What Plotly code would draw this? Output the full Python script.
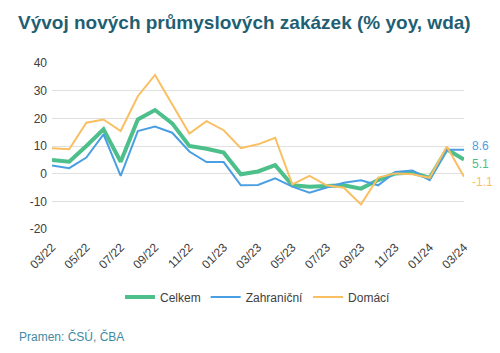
import plotly.graph_objects as go

months = ["03/22", "04/22", "05/22", "06/22", "07/22", "08/22", "09/22", "10/22", "11/22", "12/22",
          "01/23", "02/23", "03/23", "04/23", "05/23", "06/23", "07/23", "08/23", "09/23", "10/23",
          "11/23", "12/23", "01/24", "02/24", "03/24"]
celkem = [4.9, 4.3, 10.0, 16.0, 4.3, 19.6, 23.0, 18.2, 10.0, 9.0, 7.6, -0.2, 0.8, 3.1, -4.2, -4.7,
          -4.5, -4.2, -5.4, -2.3, 0.1, 0.4, -1.5, 8.8, 5.1]
zahranicni = [3.0, 2.0, 5.8, 14.2, -0.8, 15.4, 17.0, 14.8, 8.0, 4.2, 4.2, -4.2, -4.1, -1.7, -4.7, -6.9,
              -5.0, -3.3, -2.4, -4.2, 0.6, 1.1, -2.3, 8.6, 8.6]
domaci = [9.2, 8.8, 18.4, 19.6, 15.4, 28.0, 35.7, 25.0, 14.5, 19.0, 15.7, 9.2, 10.6, 13.0, -3.9, -0.8,
          -4.2, -5.1, -11.1, -1.4, 0.1, -0.2, -1.5, 9.8, -1.1]
series_names = ["Celkem", "Zahraniční", "Domácí"]
yticks = [-20, -10, 0, 10, 20, 30, 40]
ytick_text = ["-20", "-10", "0", "10", "20", "30", "40"]

colors = ["#4dbf8b", "#4a9fe2", "#f9bf62"]
widths = [4, 2, 2]
xs = list(range(len(months)))

fig = go.Figure()
for name, vals, c, w in zip(series_names, [celkem, zahranicni, domaci], colors, widths):
    fig.add_trace(go.Scatter(x=xs, y=vals, name=name, mode="lines",
                             line=dict(color=c, width=w), hoverinfo="skip"))

# end labels
shifts = [-4, 4, -5]
for vals, c, s in zip([celkem, zahranicni, domaci], colors, shifts):
    fig.add_annotation(x=xs[-1], y=vals[-1], text=f"{vals[-1]:.1f}".replace("−", "-"), showarrow=False,
                       xanchor="left", xshift=6, yshift=s,
                       font=dict(family="Liberation Sans, Arial", size=12, color=c))

fig.add_annotation(xref="paper", yref="paper", x=-0.085, y=-0.645, xanchor="left", yanchor="middle",
                   text="Pramen: ČSÚ, ČBA", showarrow=False,
                   font=dict(family="Liberation Sans, Arial", size=12, color="#3f8aa3"))

tickvals = xs[::2]
ticktext = months[::2]

fig.update_layout(
    width=500, height=353,
    margin=dict(l=52, r=36, t=63, b=124),
    paper_bgcolor="white", plot_bgcolor="white",
    title=dict(text="<b>Vývoj nových průmyslových zakázek (% yoy, wda)</b>",
               x=18 / 500, xanchor="left", xref="container",
               y=1 - 22 / 353, yanchor="middle", yref="container",
               font=dict(family="Liberation Sans, Arial", size=19, color="#1f5f73")),
    xaxis=dict(range=[0, 24], tickvals=tickvals, ticktext=ticktext, tickangle=-45,
               showgrid=False, zeroline=False, showline=False, ticks="",
               ticklabelstandoff=8,
               tickfont=dict(family="Liberation Sans, Arial", size=12, color="#404040")),
    xaxis2=dict(range=[0, 24], overlaying="x", anchor="free", position=1 / 3, side="bottom",
                tickvals=tickvals, showticklabels=False, ticks="outside", ticklen=4,
                tickcolor="#a0a0a0", showline=True, linecolor="#a0a0a0", linewidth=1,
                showgrid=False, zeroline=False, matches="x"),
    yaxis=dict(range=[-20, 40], tickvals=yticks, ticktext=ytick_text, showgrid=True,
               gridcolor="#e0e0e0", gridwidth=1,
               zeroline=False, showline=False, ticks="", ticklabelstandoff=4,
               tickfont=dict(family="Liberation Sans, Arial", size=12, color="#404040")),
    legend=dict(orientation="h", x=0.5, xanchor="center", y=-0.41, yanchor="middle",
                font=dict(family="Liberation Sans, Arial", size=12, color="#404040"),
                itemwidth=30, tracegroupgap=0),
    showlegend=True,
)
fig.write_html("out.html")
